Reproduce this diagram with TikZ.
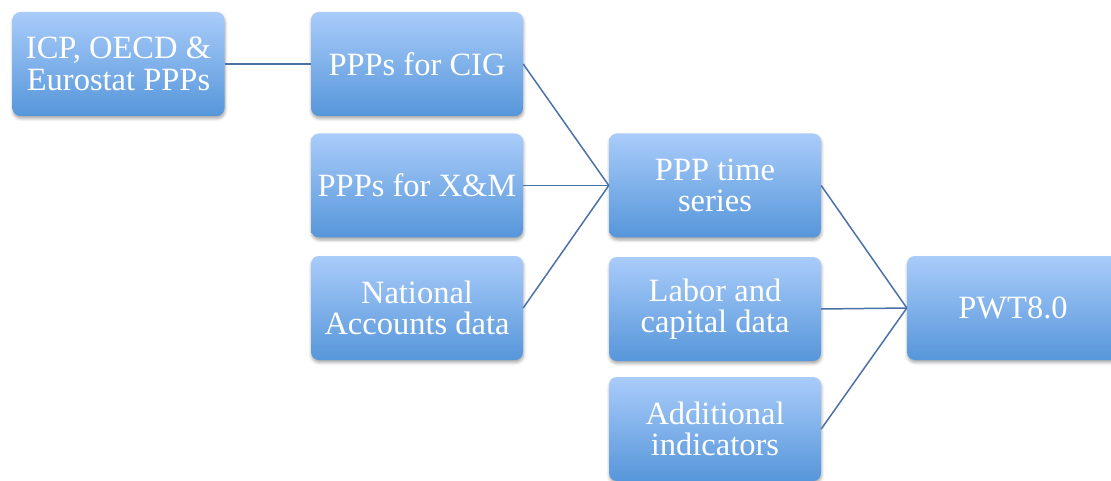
\documentclass[tikz,border=0pt]{standalone}
\usepackage{fontspec}
\setmainfont{Liberation Serif}
\usetikzlibrary{shadows.blur}
\definecolor{boxtop}{HTML}{A9CCFA}
\definecolor{boxbot}{HTML}{5696DA}
\definecolor{linkcol}{HTML}{4A72A6}
\tikzset{
  flowbox/.style={rectangle, rounded corners=8pt, minimum width=212pt,
    minimum height=104pt, inner sep=0pt, align=center, text=white,
    top color=boxtop, bottom color=boxbot, draw=none,
    font=\fontsize{32.5}{31.5}\selectfont,
    blur shadow={shadow xshift=0.5pt, shadow yshift=-2.5pt,
      shadow blur radius=3pt, shadow opacity=35}},
  link/.style={draw=linkcol, line width=1.5pt}
}
\begin{document}
\begin{tikzpicture}[x=1pt, y=-1pt]
  \useasboundingbox (0,0) rectangle (1111,481);
  % column 1
  \node[flowbox] (src) at (118.5,64) {ICP, OECD \&\\Eurostat PPPs};
  % column 2
  \node[flowbox] (cig) at (417,64) {PPPs for CIG};
  \node[flowbox] (xm)  at (417,185.5) {PPPs for X\&M};
  \node[flowbox] (na)  at (417,308) {National\\Accounts data};
  % column 3
  \node[flowbox] (ts)  at (715,185.5) {PPP time\\series};
  \node[flowbox] (lab) at (715,309) {Labor and\\capital data};
  \node[flowbox] (add) at (715,429) {Additional\\indicators};
  % column 4
  \node[flowbox] (pwt) at (1013,308) {PWT8.0};
  % connectors
  \draw[link] (src.east) -- (cig.west);
  \draw[link] (cig.east) -- (ts.west);
  \draw[link] (xm.east) -- (ts.west);
  \draw[link] (na.east) -- (ts.west);
  \draw[link] (ts.east) -- (pwt.west);
  \draw[link] (lab.east) -- (pwt.west);
  \draw[link] (add.east) -- (pwt.west);
\end{tikzpicture}
\end{document}
